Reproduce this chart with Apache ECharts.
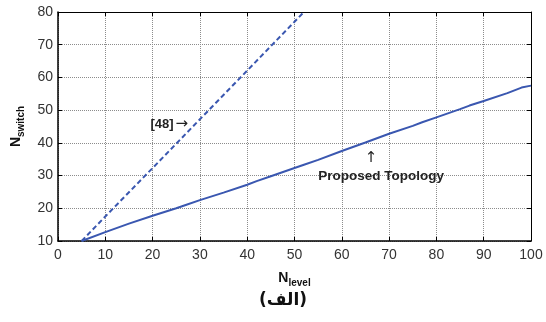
<!DOCTYPE html>
<html><head><meta charset="utf-8">
<script src="https://cdn.jsdelivr.net/npm/echarts@6/dist/echarts.min.js"></script>
<style>html,body{margin:0;padding:0;background:#fff}#c{width:546px;height:322px}</style>
</head><body><div id="c"></div>
<script>
// Data
const xTicks = [0,10,20,30,40,50,60,70,80,90,100];
const yTicks = [10,20,30,40,50,60,70,80];
const proposedX = [5,10,15,20,25,27,30,35,40,42,45,50,52,55,60,65,70,75,77,80,85,87,90,95,98,100];
const proposedY = [10,12.7,15.3,17.7,20,21,22.5,24.8,27.2,28.3,29.8,32.3,33.3,34.8,37.5,40.1,42.8,45.2,46.3,47.8,50.3,51.4,52.8,55.2,56.9,57.5];
const ref48X = [5,10,20,30,40,50,52];
const ref48Y = [10,17.5,32.3,47.2,62.1,77,80];
const xName = ['N','level'];
const yName = ['N','switch'];
const caption = '(الف)';

const FONT = '"Liberation Sans", Arial, sans-serif';
const lineColor = '#3a57b0';
const chart = echarts.init(document.getElementById('c'));
const pair = (xs, ys) => xs.map((x,i)=>[x, ys[i]]);
const gridLine = {show:true, lineStyle:{color:'#8c8c8c', type:[1,1], width:1}};
const axLine = {show:true, onZero:false, lineStyle:{color:'#000', width:1.5}};
const tick = {show:true, inside:true, length:4, lineStyle:{color:'#000'}};
const lbl = {color:'#333', fontSize:14, fontFamily:FONT};
const nameRich = {
  n:{fontSize:14, fontWeight:'bold', fontFamily:FONT, color:'#111'},
  s:{fontSize:10, fontWeight:'bold', fontFamily:FONT, color:'#111', padding:[10,0,0,0]}
};
chart.setOption({
  animation:false,
  grid:{left:58, right:15, top:12, bottom:81},
  xAxis:[
    {type:'value', min:0, max:100, interval:10, axisLine:axLine, axisTick:tick, splitLine:gridLine,
     axisLabel:Object.assign({margin:7}, lbl),
     name:'{n|'+xName[0]+'}{s|'+xName[1]+'}', nameLocation:'middle', nameGap:27, nameTextStyle:{rich:nameRich}},
    {type:'value', position:'top', min:0, max:100, interval:10, axisLine:{show:true,onZero:false,lineStyle:{color:'#000',width:1}}, axisTick:tick, axisLabel:{show:false}, splitLine:{show:false}}
  ],
  yAxis:[
    {type:'value', min:10, max:80, interval:10, axisLine:axLine, axisTick:tick, splitLine:gridLine,
     axisLabel:Object.assign({margin:5}, lbl),
     name:'{n|'+yName[0]+'}{s|'+yName[1]+'}', nameLocation:'middle', nameRotate:90, nameGap:32, nameTextStyle:{rich:nameRich}},
    {type:'value', position:'right', min:10, max:80, interval:10, axisLine:{show:true,onZero:false,lineStyle:{color:'#000',width:1}}, axisTick:tick, axisLabel:{show:false}, splitLine:{show:false}}
  ],
  series:[
    {type:'line', data:pair(ref48X, ref48Y), showSymbol:false, lineStyle:{color:lineColor, width:2, type:[5,3]}, z:3},
    {type:'line', data:pair(proposedX, proposedY), showSymbol:false, lineStyle:{color:lineColor, width:2}, z:3}
  ]
});
const p1 = chart.convertToPixel({xAxisIndex:0,yAxisIndex:0},[27.5,45.6]);
const p2 = chart.convertToPixel({xAxisIndex:0,yAxisIndex:0},[68.3,29.9]);
const p3 = chart.convertToPixel({xAxisIndex:0,yAxisIndex:0},[66.2,35.2]);
chart.setOption({graphic:[
  {type:'text', x:p1[0], y:p1[1], style:{text:'{t|[48]}{a|→}', align:'right', verticalAlign:'middle',
    rich:{t:{font:'bold 13px '+FONT, fill:'#222'}, a:{font:'15px "DejaVu Sans", sans-serif', fill:'#222', padding:[0,0,0,2]}}}},
  {type:'text', x:p2[0], y:p2[1], style:{text:'Proposed Topology', font:'bold 13.5px '+FONT, fill:'#222', align:'center', verticalAlign:'middle'}},
  {type:'text', x:p3[0], y:p3[1], style:{text:'↑', font:'15px "DejaVu Sans", sans-serif', fill:'#222', align:'center', verticalAlign:'middle'}},
  {type:'text', x:283, y:301, style:{text:caption, font:'bold 17px "DejaVu Sans", sans-serif', fill:'#111', align:'center', verticalAlign:'middle'}}
]});
</script></body></html>
